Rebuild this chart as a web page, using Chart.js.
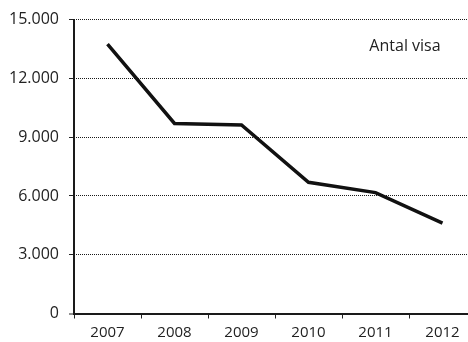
<!DOCTYPE html>
<html>
<head>
<meta charset="utf-8">
<script src="https://cdn.jsdelivr.net/npm/chart.js@4/dist/chart.umd.min.js"></script>
<style>
html,body{margin:0;padding:0;background:#fff;overflow:hidden;width:468px;height:342px;}
#wrap{position:absolute;left:0;top:0;width:480px;height:342px;}
</style>
</head>
<body>
<div id="wrap"><canvas id="c" width="480" height="342"></canvas></div>
<script>
const categories = ["2007","2008","2009","2010","2011","2012"];
const seriesLabel = "Antal visa";
const visaValues = [13750, 9700, 9620, 6700, 6170, 4610];
const yTicks = [0, 3000, 6000, 9000, 12000, 15000];

const FONT = "'Open Sans', sans-serif";

// dotted pattern for gridlines
const pc = document.createElement('canvas');
pc.width = 2; pc.height = 2;
const pctx = pc.getContext('2d');
pctx.fillStyle = '#1a1a1a';
pctx.fillRect(0, 0, 1, 2);
const dotted = document.getElementById('c').getContext('2d').createPattern(pc, 'repeat');

const labelPlugin = {
  id: 'seriesLabel',
  afterDraw(chart) {
    const ctx = chart.ctx;
    ctx.save();
    ctx.font = "16px " + FONT;
    ctx.fillStyle = "#222";
    ctx.textAlign = "center";
    ctx.textBaseline = "middle";
    ctx.fillText(chart.data.datasets[0].label, 405, 46);
    ctx.restore();
  }
};

new Chart(document.getElementById('c'), {
  type: 'line',
  data: {
    labels: categories,
    datasets: [{
      label: seriesLabel,
      data: visaValues,
      borderColor: '#111',
      borderWidth: 3.5,
      pointRadius: 0,
      tension: 0,
      fill: false
    }]
  },
  options: {
    responsive: false,
    animation: false,
    events: [],
    layout: { padding: { top: 19, right: 4, left: 0, bottom: 0 } },
    plugins: { legend: { display: false }, tooltip: { enabled: false } },
    scales: {
      x: {
        type: 'category',
        offset: true,
        grid: { offset: true, drawOnChartArea: false, drawTicks: true, tickLength: 5, tickColor: '#222', tickWidth: 1 },
        border: { display: true, color: '#1a1a1a', width: 2 },
        ticks: { color: '#222', font: { family: FONT, size: 15 }, padding: 5, maxRotation: 0 },
        afterFit(s) { s.height = 28.5; }
      },
      y: {
        min: 0, max: 15000,
        afterBuildTicks(s) { s.ticks = yTicks.map(v => ({ value: v })); },
        grid: {
          color: (c) => c.tick && c.tick.value === 0 ? 'rgba(0,0,0,0)' : dotted,
          lineWidth: (c) => c.tick && c.tick.value === 0 ? 0 : 1,
          tickColor: '#222',
          tickWidth: 1,
          tickLength: 5,
          drawTicks: true
        },
        border: { display: true, color: '#1a1a1a', width: 2 },
        ticks: {
          color: '#222', font: { family: FONT, size: 16 }, padding: 10,
          callback: (v) => String(v).replace(/\B(?=(\d{3})+(?!\d))/g, '.')
        },
        afterFit(s) { s.width = 74; }
      }
    }
  },
  plugins: [labelPlugin]
});
</script>
</body>
</html>
